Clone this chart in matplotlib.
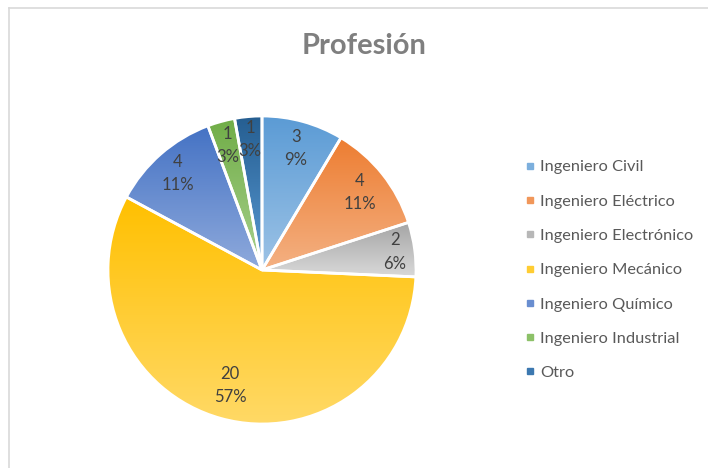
import numpy as np
import matplotlib.pyplot as plt
from matplotlib.colors import LinearSegmentedColormap
from matplotlib.lines import Line2D

plt.rcParams['font.family'] = ['Lato', 'DejaVu Sans']

# datos
profesiones = ["Ingeniero Civil", "Ingeniero Eléctrico", "Ingeniero Electrónico",
               "Ingeniero Mecánico", "Ingeniero Químico", "Ingeniero Industrial", "Otro"]
cantidad = [3, 4, 2, 20, 4, 1, 1]
porcentaje = ["9%", "11%", "6%", "57%", "11%", "3%", "3%"]

# colores (arriba oscuro -> abajo claro)
col_top = ["#5B9BD5", "#ED7D31", "#A5A5A5", "#FFC000", "#4472C4", "#70AD47", "#255E91"]
col_bot = ["#9DC3E6", "#F4B183", "#D9D9D9", "#FFD966", "#8FAADC", "#A9D18E", "#5B9BD5"]
col_leg = ["#7CAFDD", "#F1975A", "#B7B7B7", "#FFCD33", "#698ED0", "#8CC168", "#3C78B0"]
lab_r = [0.82, 0.81, 0.87, 0.78, 0.83, 0.84, 0.85]

fig = plt.figure(figsize=(7.08, 4.68), dpi=100)
R = 1.02
ax = fig.add_axes([(262 - 154 * R) / 708, (198 - 154 * R) / 468, 308 * R / 708, 308 * R / 468])

wedges, _ = ax.pie(cantidad, startangle=90, counterclock=False,
                   wedgeprops=dict(edgecolor="white", linewidth=2, facecolor="none"))

grad = np.linspace(0, 1, 256).reshape(-1, 1)
for i, w in enumerate(wedges):
    t = np.deg2rad(np.linspace(w.theta1, w.theta2, 100))
    xs = np.concatenate([[0], np.cos(t)])
    ys = np.concatenate([[0], np.sin(t)])
    cmap = LinearSegmentedColormap.from_list("g%d" % i, [col_top[i], col_bot[i]])
    im = ax.imshow(grad, cmap=cmap, extent=[xs.min(), xs.max(), ys.min(), ys.max()],
                   aspect="auto", zorder=0.5, interpolation="bilinear")
    im.set_clip_path(w)
    w.set_zorder(1)
    ang = np.deg2rad((w.theta1 + w.theta2) / 2)
    ax.text(lab_r[i] * np.cos(ang), lab_r[i] * np.sin(ang),
            "%d\n%s" % (cantidad[i], porcentaje[i]), ha="center", va="center",
            fontsize=12, color="#404040", linespacing=1.55, zorder=3)

ax.set_xlim(-R, R)
ax.set_ylim(-R, R)
ax.set_aspect("equal")
ax.axis("off")

fig.text(364 / 708, 1 - 46 / 468, "Profesión", ha="center", va="center",
         fontsize=21, fontweight="bold", color="#7F7F7F")

handles = [Line2D([], [], marker="s", linestyle="none", markersize=5, color=c) for c in col_leg]
leg = fig.legend(handles, profesiones, loc="center left", bbox_to_anchor=(510 / 708, 1 - 270 / 468),
                 frameon=False, fontsize=11.8, labelspacing=1.21, handlelength=0.6,
                 handletextpad=0.33, labelcolor="#595959")

# borde del gráfico
fig.add_artist(Line2D([9 / 708, 9 / 708], [0, 1 - 8 / 468], color="#D9D9D9", linewidth=1.2))
fig.add_artist(Line2D([9 / 708, 1], [1 - 8 / 468, 1 - 8 / 468], color="#D9D9D9", linewidth=1.2))

fig.savefig("out.png", dpi=100)
